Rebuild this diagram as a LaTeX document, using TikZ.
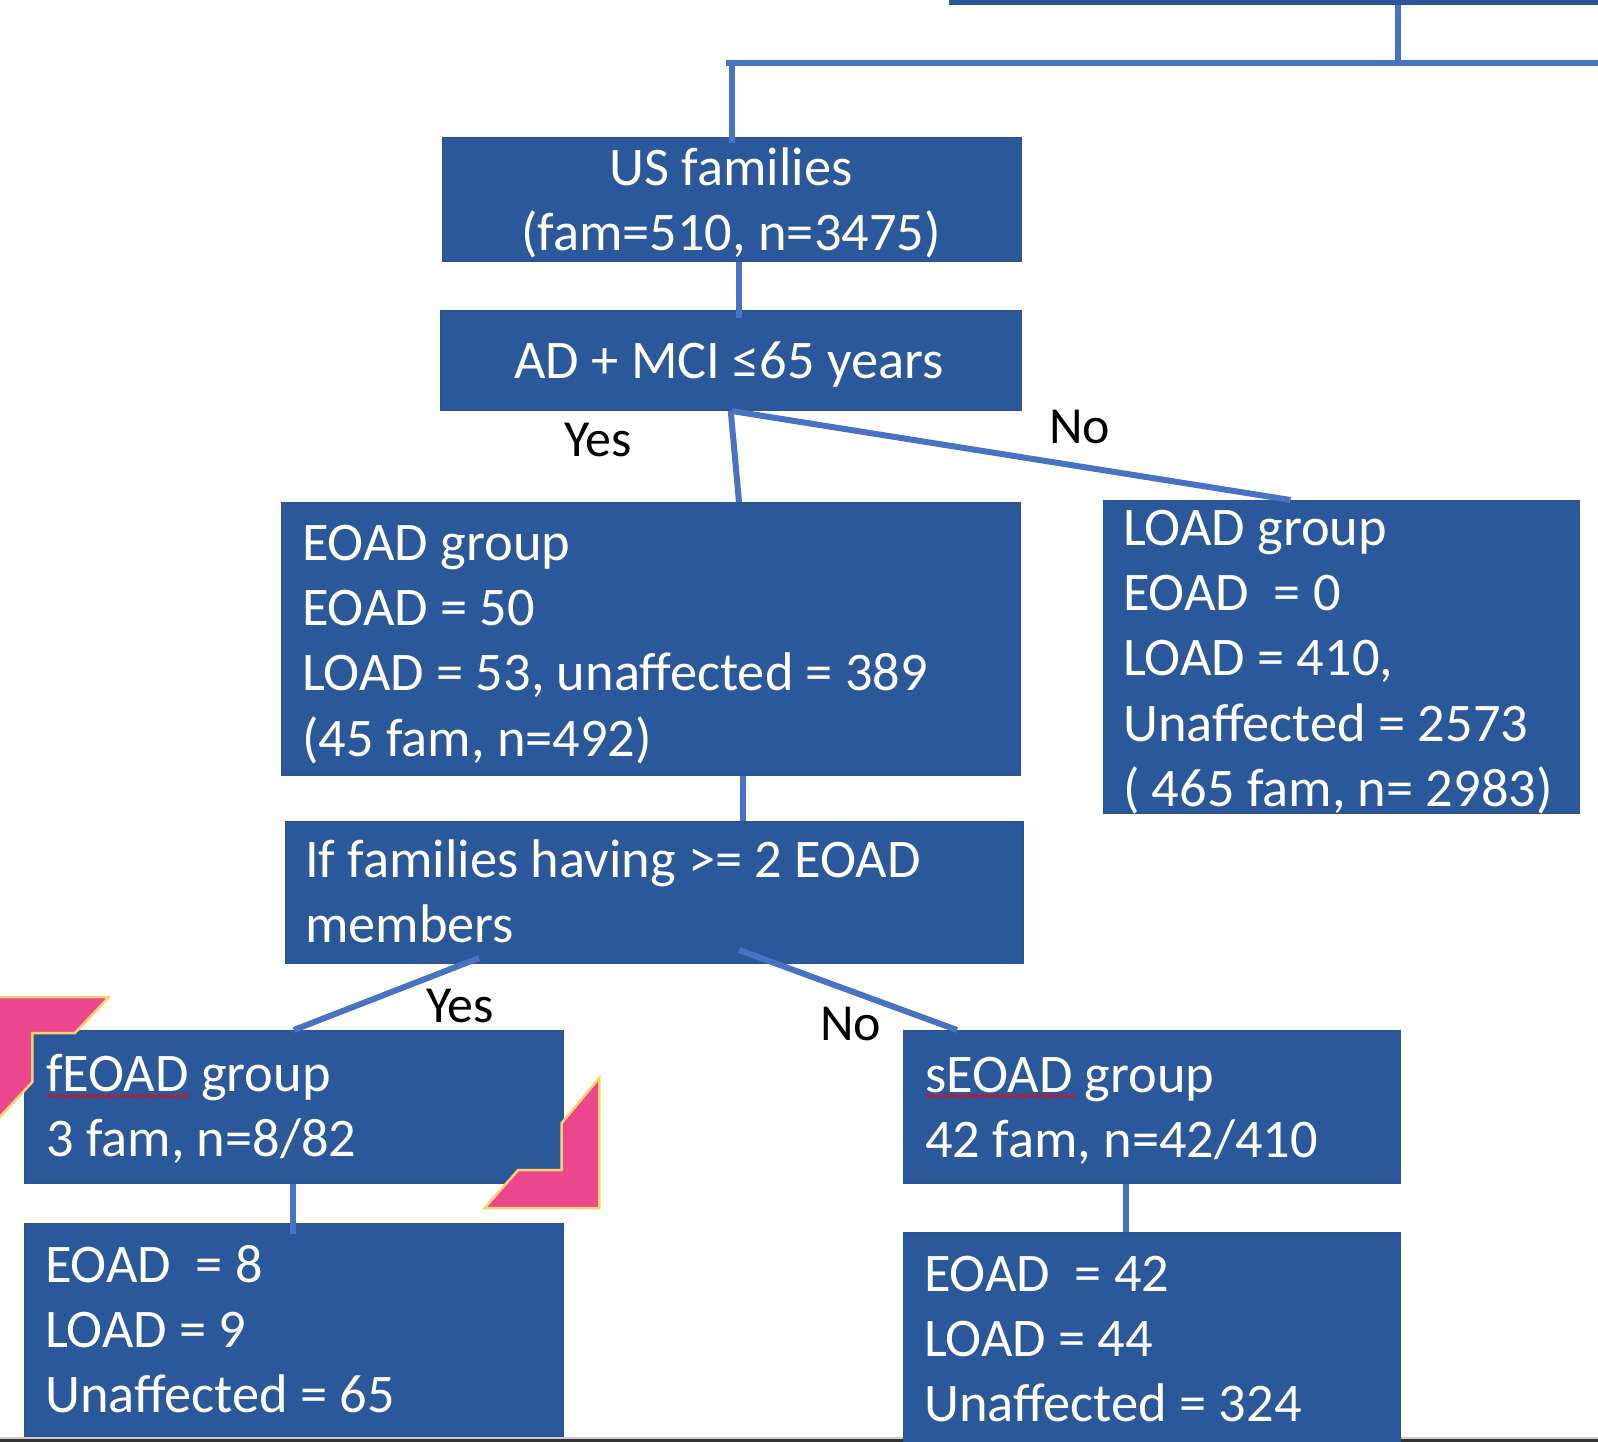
\documentclass[tikz,border=0pt]{standalone}
\usepackage{fontspec}
\setmainfont{Carlito}
\usetikzlibrary{decorations.pathmorphing}
\definecolor{boxblue}{RGB}{43,88,155}
\definecolor{boxedge}{RGB}{47,82,143}
\definecolor{connblue}{RGB}{72,114,196}
\definecolor{pinkfill}{RGB}{234,71,143}
\definecolor{goldline}{RGB}{247,212,105}
\newcommand{\boxlines}[1]{\begin{tabular}[t]{@{}l@{}}#1\end{tabular}}
\newcommand{\boxlinesc}[1]{\begin{tabular}[t]{@{}c@{}}#1\end{tabular}}
\tikzset{
  box/.style={draw=boxedge, line width=1pt, fill=boxblue, rectangle, inner sep=0pt, anchor=north west},
  txt/.style={text=white, inner sep=0pt, font=\fontsize{54.4}{65.2}\selectfont, anchor=base west},
  lbl/.style={text=black, inner sep=0pt, font=\fontsize{52}{62}\selectfont, anchor=base west},
  conn/.style={draw=connblue, line width=6pt},
  squig/.style={draw=red, line width=1pt, decorate, decoration={zigzag, segment length=5pt, amplitude=1.5pt}},
  accent/.style={fill=pinkfill, draw=goldline, line width=2.5pt, line join=miter}
}
\begin{document}
\begin{tikzpicture}[x=1pt, y=-1pt]
\useasboundingbox (0,0) rectangle (1598,1442);
% bottom strip
\fill[gray!40] (0,1436.5) rectangle (1598,1439);
\fill[black!80] (0,1439) rectangle (1598,1442);
% boxes
\node[box, anchor=south west, minimum width=700, minimum height=100] (topbox) at (949,5) {};
\node[box, minimum width=579.5, minimum height=124] (us) at (441.5,137) {};
\node[box, minimum width=580.5, minimum height=100] (ad) at (440,310) {};
\node[box, minimum width=739, minimum height=273] (eoad) at (281,502) {};
\node[box, minimum width=476, minimum height=313] (load) at (1103,500) {};
\node[box, minimum width=738, minimum height=142] (iff) at (284.5,821) {};
\node[box, minimum width=538.6, minimum height=152.7] (fe) at (24,1030) {};
\node[box, minimum width=497, minimum height=152.7] (se) at (903,1030) {};
\node[box, minimum width=538.6, minimum height=212.7] (bl) at (24,1223) {};
\node[box, minimum width=497, minimum height=230] (br) at (903,1232) {};
% junctions
\coordinate (jl) at (726,63);
\coordinate (jr) at (1610,63);
\coordinate (jt) at (1398,63);
% connectors
\draw[conn] (topbox.south -| jt) -- (jt);
\draw[conn] (jl) -- (jr);
\draw[conn] (us.north |- jl) -- ([yshift=-6pt]us.north);
\draw[conn] ([xshift=7.5pt]us.south) -- ([xshift=8.5pt,yshift=-8pt]ad.north);
\draw[conn] (ad.south) -- ([xshift=88pt]eoad.north);
\draw[conn] ([xshift=1pt]ad.south) -- ([xshift=-51pt]load.north);
\draw[conn] ([xshift=92pt]eoad.south) -- ([xshift=89pt]iff.north);
\draw[conn] ([xshift=-175pt,yshift=6pt]iff.south) -- (fe.north);
\draw[conn] ([xshift=85pt,yshift=14pt]iff.south) -- ([xshift=-195pt]se.north);
\draw[conn] ([xshift=-1pt]fe.south) -- ([xshift=-1pt,yshift=-11pt]bl.north);
\draw[conn] ([xshift=-26.5pt]se.south) -- ([xshift=-26.5pt]br.north);
% texts
\node[txt, anchor=base] (ustxt) at (731,185.5) {\boxlinesc{US families\\(fam=510, n=3475)}};
\node[txt, anchor=base] (adtxt) at (729,378.5) {AD + MCI ≤65 years};
\node[txt] (eoadtxt) at (302,560.5) {\boxlines{EOAD group\\EOAD = 50\\LOAD = 53, unaffected = 389\\(45 fam, n=492)}};
\node[txt] (loadtxt) at (1123,545.5) {\boxlines{LOAD group\\EOAD\ \ = 0\\LOAD = 410,\\Unaffected = 2573\\( 465 fam, n= 2983)}};
\node[txt] (ifftxt) at (305,877.5) {\boxlines{If families having >= 2 EOAD\\members}};
\node[txt] (fetxt) at (46,1091) {\boxlines{fEOAD group\\3 fam, n=8/82}};
\node[txt] (setxt) at (925,1092) {\boxlines{sEOAD group\\42 fam, n=42/410}};
\node[txt] (bltxt) at (45,1282.5) {\boxlines{EOAD\ \ = 8\\LOAD = 9\\Unaffected = 65}};
\node[txt] (brtxt) at (924,1291.5) {\boxlines{EOAD\ \ = 42\\LOAD = 44\\Unaffected = 324}};
% yes/no labels
\node[lbl] (yes1) at (564,456) {Yes};
\node[lbl] (no1) at (1049,443) {No};
\node[lbl] (yes2) at (426,1022) {Yes};
\node[lbl] (no2) at (820,1040) {No};
% spell-check squiggles
\draw[squig] (47,1096) -- (190,1096);
\draw[squig] (926,1096) -- (1077,1096);
% pink corner accents
\path[accent] (-3,997) -- (108.8,997) -- (75,1033) -- (32.4,1033) -- (32.4,1082) -- (-3,1120) -- cycle;
\path[accent] (599.3,1078) -- (599.3,1208) -- (484.6,1208) -- (518.2,1170) -- (561.7,1170) -- (561.7,1123) -- cycle;
\end{tikzpicture}
\end{document}
